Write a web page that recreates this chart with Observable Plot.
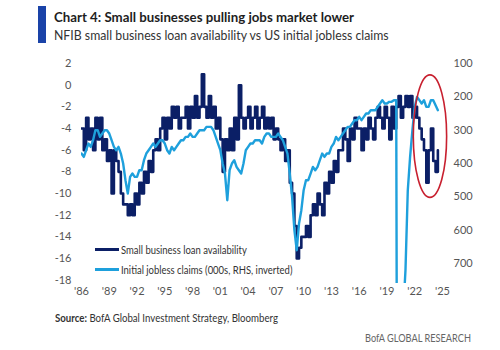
<!DOCTYPE html>
<html><head><meta charset="utf-8">
<script src="https://cdn.jsdelivr.net/npm/d3@7"></script>
<script src="https://cdn.jsdelivr.net/npm/@observablehq/plot@0.6"></script>
<style>
body{margin:0;background:#fff;font-family:Lato,"Open Sans",sans-serif;}
#wrap{position:relative;width:500px;height:350px;overflow:hidden;background:#fff;}
.bar{position:absolute;left:38px;top:6px;width:8px;height:37px;background:#1a43a8;}
.title{position:absolute;left:54px;top:8px;font-weight:bold;font-size:14px;color:#1e1e1e;white-space:nowrap;transform:scaleX(0.947);transform-origin:0 0;}
.sub{position:absolute;left:54px;top:26px;font-size:14px;color:#333;white-space:nowrap;transform:scaleX(0.877);transform-origin:0 0;}
#chart{position:absolute;left:0;top:50px;}
.leg{position:absolute;left:95px;font-size:11px;color:#333;white-space:nowrap;display:flex;align-items:center;}
.leg span.sw{display:inline-block;width:24px;height:2.5px;margin-right:2px;}
.leg span.tx{display:inline-block;transform:scaleX(0.86);transform-origin:0 50%;}
.src{position:absolute;left:55px;top:311px;font-size:11.5px;color:#333;white-space:nowrap;transform:scaleX(0.84);transform-origin:0 0;}
.bofa{position:absolute;left:365px;top:331px;font-size:11.5px;color:#666;white-space:nowrap;transform:scaleX(0.8);transform-origin:0 0;}
</style></head>
<body>
<div id="wrap">
  <div class="bar"></div>
  <div class="title">Chart 4: Small businesses pulling jobs market lower</div>
  <div class="sub">NFIB small business loan availability vs US initial jobless claims</div>
  <div id="chart"></div>
  <div class="leg" style="top:243px"><span class="sw" style="background:#0b1f66"></span><span class="tx">Small business loan availability</span></div>
  <div class="leg" style="top:263px"><span class="sw" style="background:#1ea0dc"></span><span class="tx">Initial jobless claims (000s, RHS, inverted)</span></div>
  <div class="src"><b>Source:</b> BofA Global Investment Strategy, Bloomberg</div>
  <div class="bofa">BofA GLOBAL RESEARCH</div>
</div>
<script>
// Quarterly series starting 1986 Q1
const startYear = 1986;
const nfibValues = [
  -4,-6,-3,-5,   // 1986
  -4,-6,-3,-5,   // 1987
  -3,-6,-5,-7,   // 1988
  -6,-10,-6,-7,  // 1989
  -8,-10,-11,-11,// 1990
  -12,-11,-12,-10,// 1991
  -11,-9,-10,-8, // 1992
  -9,-7,-8,-6,   // 1993
  -5,-6,-4,-3,   // 1994
  -5,-3,-4,-2,   // 1995
  -3,-2,-4,-3,   // 1996
  -3,-2,-4,-2,   // 1997
  -3,-1,-3,-2,   // 1998
  1,-2,-3,-1,    // 1999
  -3,-2,-4,-3,   // 2000
  -5,-8,-5,-6,   // 2001
  -4,-6,-3,-5,   // 2002
  0,-3,-4,-3,    // 2003
  -2,-4,-3,-2,   // 2004
  -4,-3,-2,-4,   // 2005
  -3,-4,-3,-5,   // 2006
  -4,-5,-6,-5,   // 2007
  -7,-6,-9,-10,  // 2008
  -13,-16,-15,-14,// 2009
  -14,-13,-14,-12,// 2010
  -11,-12,-10,-11,// 2011
  -12,-9,-10,-8, // 2012
  -9,-7,-8,-6,   // 2013
  -6,-4,-5,-7,   // 2014
  -4,-5,-3,-4,   // 2015
  -4,-6,-4,-5,   // 2016
  -3,-4,-5,-3,   // 2017
  -2,-3,-4,-2,   // 2018
  -3,-5,-2,-4,   // 2019
  -2,-1,-3,-2,   // 2020
  -1,-2,-1,-3,   // 2021
  -2,-3,-4,-5,   // 2022
  -6,-9,-6,-4,   // 2023
  -7,-8,-6       // 2024
];
const claimsValues = [
  370,380,360,340, // 1986
  350,330,300,300, // 1987
  320,310,300,300, // 1988
  310,330,350,360, // 1989
  350,370,400,450, // 1990
  490,440,430,440, // 1991
  440,420,420,390, // 1992
  370,360,350,340, // 1993
  350,340,330,330, // 1994
  340,360,370,350, // 1995
  360,350,340,330, // 1996
  330,320,320,310, // 1997
  320,320,310,300, // 1998
  300,300,290,290, // 1999
  290,300,320,340, // 2000
  360,400,430,510, // 2001
  420,400,390,410, // 2002
  420,430,400,360, // 2003
  350,340,340,330, // 2004
  330,330,340,320, // 2005
  310,310,320,320, // 2006
  320,310,320,330, // 2007
  350,370,430,500, // 2008
  600,660,580,540, // 2009
  480,450,450,430, // 2010
  410,420,410,390, // 2011
  370,380,370,370, // 2012
  350,340,320,330, // 2013
  320,310,300,290, // 2014
  290,280,270,270, // 2015
  260,270,260,250, // 2016
  250,240,240,240, // 2017
  230,220,210,220, // 2018
  220,215,215,210, // 2019
  210,3000,1300,850, // 2020
  720,480,380,300, // 2021
  230,200,210,220, // 2022
  210,230,230,210, // 2023
  210,225,240      // 2024
];
const xTickYears = [1986,1989,1992,1995,1998,2001,2004,2007,2010,2013,2016,2019,2022,2025];
const leftTicks = [2,0,-2,-4,-6,-8,-10,-12,-14,-16,-18];
const rightTicks = [100,200,300,400,500,600,700];
const ellipseBox = {x1: 2021.9, x2: 2025.5, y1: 0.9, y2: -10.4};

const navy = "#0b1f66", light = "#1ea0dc";
// right axis (claims, inverted): 100 -> +2, 750 -> -18 on left scale
const toLeft = r => 2 - (r - 100) * 20 / 650;
const fromLeft = v => Math.round(100 + (2 - v) * 650 / 20);

const nfib = nfibValues.map((v, i) => ({t: startYear + i / 4, v}));
const claims = claimsValues.map((v, i) => ({t: startYear + i / 4, v}));

const plot = Plot.plot({
  width: 500, height: 250,
  marginTop: 13, marginBottom: 17, marginLeft: 81, marginRight: 58,
  x: {domain: [1986, 2025], label: null},
  y: {domain: [-18.3, 2], label: null},
  style: {fontFamily: "Lato, 'Open Sans', sans-serif", fontSize: "11px", color: "#555", background: "white"},
  marks: [
    Plot.axisX({ticks: xTickYears, tickSize: 0, tickPadding: 4, tickFormat: d => "'" + String(d).slice(2), label: null}),
    Plot.axisY({ticks: leftTicks, tickSize: 0, tickPadding: 10, tickFormat: d => String(d), label: null}),
    Plot.axisY({anchor: "right", ticks: rightTicks.map(toLeft), tickSize: 0, tickPadding: 11, tickFormat: d => String(fromLeft(d)), textAnchor: "start", label: null}),
    Plot.line(nfib, {x: "t", y: "v", stroke: navy, strokeWidth: 2.6, curve: "step-after", clip: true}),
    Plot.line(claims, {x: "t", y: d => toLeft(d.v), stroke: light, strokeWidth: 2.4, clip: true})
  ]
});
document.getElementById("chart").appendChild(plot);
const xs = plot.scale("x"), ys = plot.scale("y");
const cx = (xs.apply(ellipseBox.x1) + xs.apply(ellipseBox.x2)) / 2;
const cy = (ys.apply(ellipseBox.y1) + ys.apply(ellipseBox.y2)) / 2;
d3.select(plot).append("ellipse")
  .attr("cx", cx).attr("cy", cy)
  .attr("rx", Math.abs(xs.apply(ellipseBox.x2) - xs.apply(ellipseBox.x1)) / 2)
  .attr("ry", Math.abs(ys.apply(ellipseBox.y2) - ys.apply(ellipseBox.y1)) / 2)
  .attr("fill", "none").attr("stroke", "#c8202f").attr("stroke-width", 1.6);
</script>
</body></html>
